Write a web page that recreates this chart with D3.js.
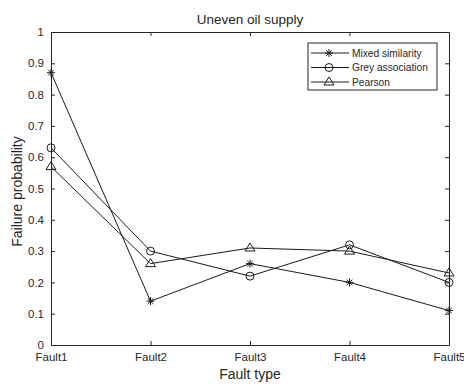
<!DOCTYPE html>
<html>
<head>
<meta charset="utf-8">
<script src="https://cdn.jsdelivr.net/npm/d3@7"></script>
<style>
  body { margin: 0; background: #fff; }
  svg text { font-family: "Liberation Sans", Arial, sans-serif; fill: #262626; }
</style>
</head>
<body>
<div id="chart"></div>
<script>
const faults = ['Fault1', 'Fault2', 'Fault3', 'Fault4', 'Fault5'];
const mixed = [0.87, 0.14, 0.26, 0.20, 0.11];
const grey = [0.63, 0.30, 0.22, 0.32, 0.20];
const pearson = [0.57, 0.26, 0.31, 0.30, 0.23];
const yTicks = [0, 0.1, 0.2, 0.3, 0.4, 0.5, 0.6, 0.7, 0.8, 0.9, 1];

const seriesList = [
  {name: 'Mixed similarity', values: mixed, marker: 'star'},
  {name: 'Grey association', values: grey, marker: 'circle'},
  {name: 'Pearson', values: pearson, marker: 'triangle'}
];

const W = 464, H = 385;
const margin = {top: 32, right: 15, bottom: 40, left: 51};
const width = W - margin.left - margin.right;
const height = H - margin.top - margin.bottom;
const axisColor = '#262626';
const lineColor = '#1a1a1a';

const svg = d3.select('#chart').append('svg')
  .attr('width', W).attr('height', H);

const g = svg.append('g')
  .attr('transform', `translate(${margin.left},${margin.top})`);

const x = d3.scalePoint().domain(faults).range([0, width]);
const y = d3.scaleLinear().domain([0, 1]).range([height, 0]);

// axes with inward ticks (box style)
const tickLen = 4;
const xAxis = g.append('g').attr('transform', `translate(0,${height})`)
  .call(d3.axisBottom(x).tickSizeInner(-tickLen).tickSizeOuter(0).tickPadding(8));
const xTop = g.append('g')
  .call(d3.axisTop(x).tickSizeInner(-tickLen).tickSizeOuter(0).tickFormat(''));
const yAxis = g.append('g')
  .call(d3.axisLeft(y).tickValues(yTicks).tickSizeInner(-tickLen).tickSizeOuter(0).tickPadding(7).tickFormat(d3.format('~g')));
const yRight = g.append('g').attr('transform', `translate(${width},0)`)
  .call(d3.axisRight(y).tickValues(yTicks).tickSizeInner(-tickLen).tickSizeOuter(0).tickFormat(''));

[xAxis, xTop, yAxis, yRight].forEach(a => {
  a.select('.domain').attr('stroke', axisColor).attr('stroke-width', 1);
  a.selectAll('.tick line').attr('stroke', axisColor);
  a.selectAll('.tick text').attr('font-size', 11.5).style('fill', axisColor);
});
// hide end ticks on top/right to mimic box
xTop.selectAll('.tick').filter((d, i) => i === 0 || i === faults.length - 1).select('line').remove();
yRight.selectAll('.tick').filter(d => d === 0 || d === 1).select('line').remove();

// lines
const line = d3.line().x((d, i) => x(faults[i])).y(d => y(d));

function drawMarker(sel, type, cx, cy) {
  if (type === 'star') {
    const r = 4;
    const p = `M${cx - r},${cy}L${cx + r},${cy}M${cx},${cy - r}L${cx},${cy + r}` +
      `M${cx - r * 0.7},${cy - r * 0.7}L${cx + r * 0.7},${cy + r * 0.7}` +
      `M${cx - r * 0.7},${cy + r * 0.7}L${cx + r * 0.7},${cy - r * 0.7}`;
    sel.append('path').attr('d', p).attr('stroke', lineColor).attr('stroke-width', 1).attr('fill', 'none');
  } else if (type === 'circle') {
    sel.append('circle').attr('cx', cx).attr('cy', cy).attr('r', 4)
      .attr('fill', 'none').attr('stroke', lineColor).attr('stroke-width', 1);
  } else {
    const s = 5;
    const p = `M${cx},${cy - s}L${cx + s},${cy + s * 0.6}L${cx - s},${cy + s * 0.6}Z`;
    sel.append('path').attr('d', p).attr('fill', 'none').attr('stroke', lineColor).attr('stroke-width', 1);
  }
}

seriesList.forEach(s => {
  g.append('path').datum(s.values)
    .attr('d', line)
    .attr('fill', 'none')
    .attr('stroke', lineColor)
    .attr('stroke-width', 1);
  const mg = g.append('g');
  s.values.forEach((v, i) => drawMarker(mg, s.marker, x(faults[i]), y(v)));
});

// title and axis labels
svg.append('text').attr('x', margin.left + width / 2).attr('y', 24)
  .attr('text-anchor', 'middle').attr('font-size', 13.5).text('Uneven oil supply');
svg.append('text').attr('x', margin.left + width / 2).attr('y', 379)
  .attr('text-anchor', 'middle').attr('font-size', 14).text('Fault type');
svg.append('text')
  .attr('transform', `translate(22,${margin.top + height / 2 + 3}) rotate(-90)`)
  .attr('text-anchor', 'middle').attr('font-size', 14).text('Failure probability');

// legend
const lg = svg.append('g').attr('transform', 'translate(308,43)');
lg.append('rect').attr('width', 129).attr('height', 47)
  .attr('fill', '#fff').attr('stroke', axisColor).attr('stroke-width', 1);
seriesList.forEach((s, i) => {
  const cy = 10 + i * 14.5;
  lg.append('line').attr('x1', 3).attr('x2', 41).attr('y1', cy).attr('y2', cy)
    .attr('stroke', lineColor).attr('stroke-width', 1);
  drawMarker(lg, s.marker, 21, cy);
  lg.append('text').attr('x', 44).attr('y', cy + 3.5).attr('font-size', 10.2).text(s.name);
});
</script>
</body>
</html>
